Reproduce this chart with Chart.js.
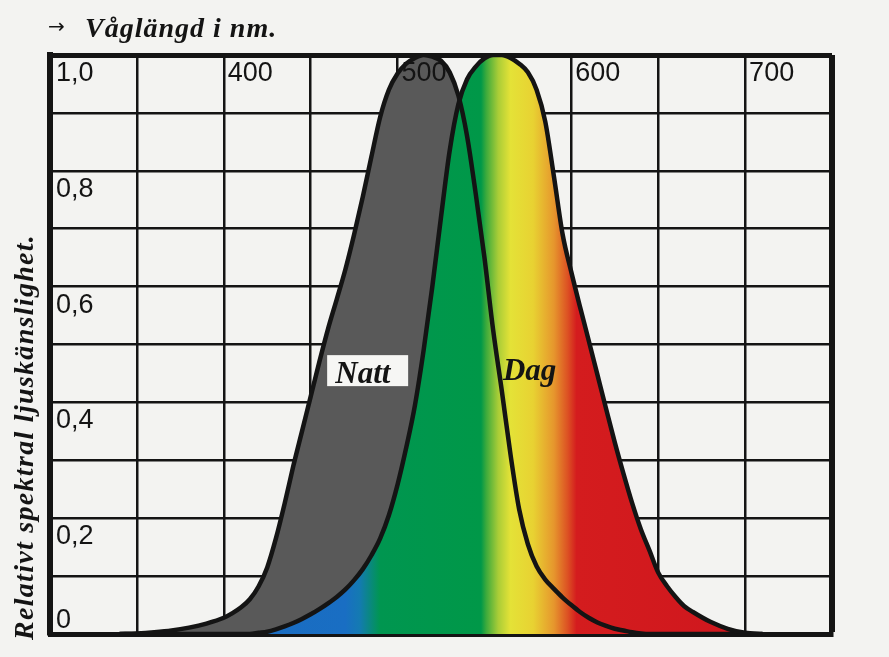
<!DOCTYPE html>
<html lang="sv">
<head>
<meta charset="utf-8">
<title>Relativ spektral ljuskänslighet</title>
<script src="https://cdn.jsdelivr.net/npm/chart.js@4.4.1/dist/chart.umd.min.js"></script>
<style>
  html, body { margin: 0; padding: 0; background: #f3f3f1; }
  #wrap { width: 889px; height: 657px; }
</style>
</head>
<body>
<div id="wrap"><canvas id="sensitivityChart" width="889" height="657"></canvas></div>
<script>
// wavelengths (nm) shared by both curves
const wavelengths = [340, 350, 360, 370, 380, 390, 400, 405, 410, 415, 420, 425, 430, 435, 440, 445,
    450, 455, 460, 465, 470, 475, 480, 485, 490, 495, 500, 505, 510, 515, 520, 525, 530, 535, 540,
    545, 550, 555, 560, 565, 570, 575, 580, 585, 590, 595, 600, 605, 610, 615, 620, 625, 630, 635,
    640, 645, 650, 655, 660, 665, 670, 680, 690, 700, 710];

// night vision (scotopic) - "Natt"
const nattValues = [0, 0.001, 0.003, 0.006, 0.011, 0.018, 0.028, 0.036, 0.046, 0.06, 0.082, 0.115,
    0.165, 0.225, 0.29, 0.35, 0.41, 0.47, 0.527, 0.578, 0.63, 0.69, 0.755, 0.825, 0.893, 0.94,
    0.968, 0.985, 0.995, 1.0, 0.997, 0.99, 0.97, 0.93, 0.86, 0.76, 0.65, 0.525, 0.42, 0.31, 0.215,
    0.155, 0.117, 0.094, 0.078, 0.063, 0.05, 0.038, 0.028, 0.02, 0.014, 0.009, 0.006, 0.003,
    0.001, 0, 0, 0, 0, 0, 0, 0, 0, 0, 0];

// day vision (photopic) - "Dag"
const dagValues = [0, 0, 0, 0, 0, 0, 0, 0, 0, 0, 0.002, 0.004, 0.008, 0.013, 0.019, 0.026, 0.034,
    0.043, 0.053, 0.064, 0.077, 0.093, 0.112, 0.136, 0.165, 0.205, 0.258, 0.322, 0.395, 0.49, 0.6,
    0.72, 0.835, 0.915, 0.958, 0.98, 0.994, 1.0, 1.0, 0.995, 0.985, 0.97, 0.94, 0.885, 0.79, 0.69,
    0.625, 0.565, 0.507, 0.448, 0.389, 0.331, 0.277, 0.226, 0.181, 0.144, 0.106, 0.083, 0.064,
    0.048, 0.038, 0.021, 0.009, 0.002, 0];

const xTickLabels = [400, 500, 600, 700];
const yTickValues = [1.0, 0.8, 0.6, 0.4, 0.2, 0];
const yTickLabels = ['1,0', '0,8', '0,6', '0,4', '0,2', '0'];

// colour bands under the day curve
const spectrumStops = [
    [300, 'rgb(30,105,190)'],
    [470, 'rgb(25,110,195)'],
    [478, 'rgb(20,122,178)'],
    [490, 'rgb(0,150,80)'],
    [548, 'rgb(0,152,72)'],
    [551, 'rgb(60,170,60)'],
    [558, 'rgb(170,205,55)'],
    [565, 'rgb(228,226,55)'],
    [578, 'rgb(232,210,50)'],
    [590, 'rgb(230,150,45)'],
    [598, 'rgb(220,80,35)'],
    [603, 'rgb(212,28,30)'],
    [750, 'rgb(205,20,30)']
];

const INK = '#141414';

function spectrumFill(context) {
    const chart = context.chart;
    const { ctx, chartArea, scales } = chart;
    if (!chartArea || !scales.x) return 'rgb(0,150,70)';
    const x0 = scales.x.getPixelForValue(300);
    const x1 = scales.x.getPixelForValue(750);
    const g = ctx.createLinearGradient(x0, 0, x1, 0);
    spectrumStops.forEach(([nm, col]) => {
        g.addColorStop((scales.x.getPixelForValue(nm) - x0) / (x1 - x0), col);
    });
    return g;
}

const toPoints = values => wavelengths.map((w, i) => ({ x: w, y: values[i] }));

// text printed on the paper: tick labels inside the grid, titles, curve names
const paperText = {
    id: 'paperText',
    afterDraw(chart) {
        const { ctx, scales: { x, y } } = chart;
        ctx.save();
        ctx.fillStyle = INK;
        ctx.textAlign = 'left';
        ctx.textBaseline = 'alphabetic';

        ctx.font = '27px "Liberation Sans", Arial, sans-serif';
        const top = y.getPixelForValue(1);
        xTickLabels.forEach(v => {
            ctx.fillText(String(v), x.getPixelForValue(v) + 4, top + 26);
        });
        const left = x.getPixelForValue(300);
        yTickValues.forEach((v, i) => {
            const py = v === 0 ? y.getPixelForValue(0) - 6 : y.getPixelForValue(v) + 26;
            ctx.fillText(yTickLabels[i], left + 6, py);
        });

        // top title
        ctx.font = '20px "DejaVu Sans", sans-serif';
        ctx.fillText('→', 48, 33);
        ctx.font = 'italic bold 28px "Liberation Serif", "Times New Roman", serif';
        ctx.letterSpacing = '1px';
        ctx.fillText('Våglängd i nm.', 85, 37);

        // vertical title
        ctx.save();
        ctx.translate(33, 640);
        ctx.rotate(-Math.PI / 2);
        ctx.letterSpacing = '1.3px';
        ctx.fillText('Relativt spektral ljuskänslighet.', 0, 0);
        ctx.restore();
        ctx.letterSpacing = '0px';

        // curve names
        ctx.font = 'italic bold 31px "Liberation Serif", "Times New Roman", serif';
        ctx.textAlign = 'center';
        const nx = x.getPixelForValue(482.5), ny = y.getPixelForValue(0.454);
        ctx.fillStyle = '#f6f6f4';
        ctx.fillRect(nx - 40, ny - 16, 81, 31);
        ctx.fillStyle = INK;
        ctx.fillText('Natt', x.getPixelForValue(480), y.getPixelForValue(0.434));
        ctx.fillText('Dag', x.getPixelForValue(576), y.getPixelForValue(0.439));
        ctx.restore();
    }
};

const ctxSens = document.getElementById('sensitivityChart').getContext('2d');
const sensitivityChart = new Chart(ctxSens, {
    type: 'line',
    data: {
        datasets: [{
            label: 'Dag',
            data: toPoints(dagValues),
            borderColor: INK,
            borderWidth: 4.5,
            backgroundColor: spectrumFill,
            fill: 'origin',
            pointRadius: 0,
            cubicInterpolationMode: 'monotone'
        }, {
            label: 'Natt',
            data: toPoints(nattValues),
            borderColor: INK,
            borderWidth: 4.5,
            backgroundColor: '#595959',
            fill: 'origin',
            pointRadius: 0,
            cubicInterpolationMode: 'monotone'
        }]
    },
    options: {
        responsive: false,
        animation: false,
        layout: {
            padding: { left: 50, top: 55, right: 57, bottom: 23 }
        },
        scales: {
            x: {
                type: 'linear',
                min: 300,
                max: 750,
                z: 1,
                ticks: { display: false, stepSize: 50 },
                grid: {
                    color: INK,
                    drawTicks: false,
                    lineWidth: c => (c.tick && c.tick.value === 750 ? 6 : 2.5)
                },
                border: { display: true, color: INK, width: 5 }
            },
            y: {
                min: 0,
                max: 1,
                z: 1,
                ticks: { display: false, stepSize: 0.1 },
                grid: {
                    color: INK,
                    drawTicks: false,
                    lineWidth: c => (c.tick && Math.abs(c.tick.value - 1) < 1e-9 ? 5 : 2.5)
                },
                border: { display: true, color: INK, width: 6 }
            }
        },
        plugins: {
            legend: { display: false },
            tooltip: { enabled: false },
            filler: { drawTime: 'beforeDatasetsDraw' }
        }
    },
    plugins: [paperText]
});
</script>
</body>
</html>
